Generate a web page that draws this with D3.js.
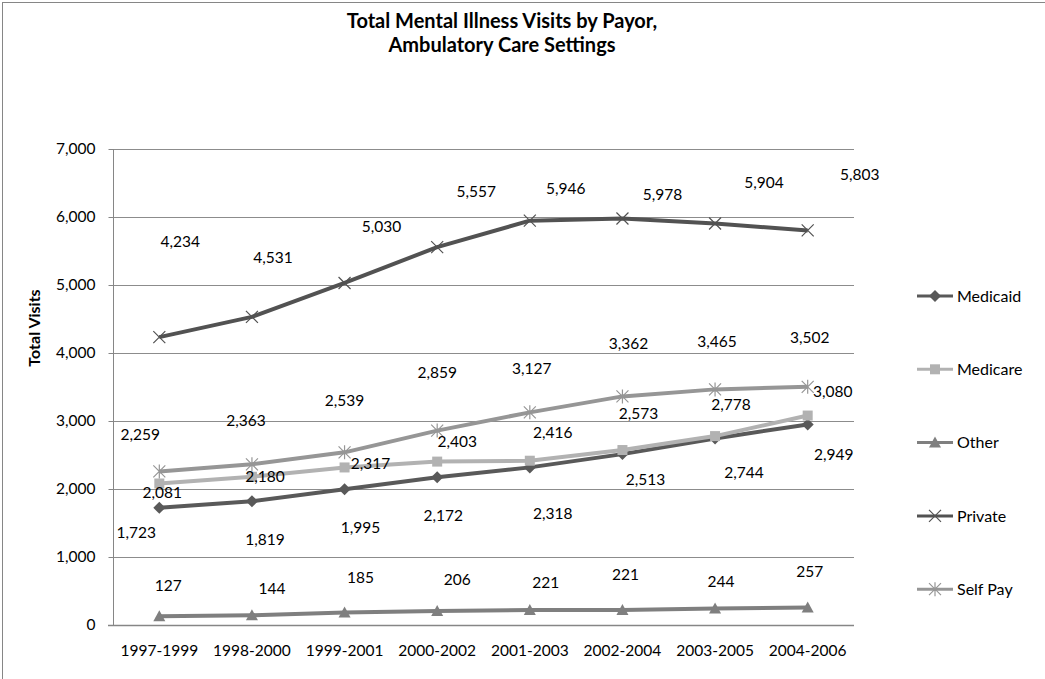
<!DOCTYPE html>
<html>
<head>
<meta charset="utf-8">
<script src="https://cdn.jsdelivr.net/npm/d3@7"></script>
<style>
  body { margin: 0; background: #fff; }
  svg { display: block; font-family: Lato, "Liberation Sans", sans-serif; }
</style>
</head>
<body>
<svg></svg>
<script>
const periods = ["1997-1999", "1998-2000", "1999-2001", "2000-2002", "2001-2003", "2002-2004", "2003-2005", "2004-2006"];
const seriesNames = ["Medicaid", "Medicare", "Other", "Private", "Self Pay"];
const medicaid = [1723, 1819, 1995, 2172, 2318, 2513, 2744, 2949];
const medicare = [2081, 2180, 2317, 2403, 2416, 2573, 2778, 3080];
const other = [127, 144, 185, 206, 221, 221, 244, 257];
const privatePay = [4234, 4531, 5030, 5557, 5946, 5978, 5904, 5803];
const selfPay = [2259, 2363, 2539, 2859, 3127, 3362, 3465, 3502];
const yTicks = [0, 1000, 2000, 3000, 4000, 5000, 6000, 7000];

// where the data labels sit relative to their point (px), as in the original
const labelOffsets = {
  "Medicaid": [[-23, 25], [13, 38], [16, 38], [6, 38], [23, 46], [23, 25], [29, 34], [26, 30]],
  "Medicare": [[3, 9], [13, 0], [26, -4], [20, -20], [23, -28], [16, -36], [16, -32], [25, -24]],
  "Other": [[9, -31], [20, -27], [16, -35], [20, -31], [16, -27], [3, -35], [6, -27], [2, -36]],
  "Private": [[21, -96], [21, -59], [37, -56], [39, -56], [36, -32], [40, -24], [49, -41], [52, -56]],
  "Self Pay": [[-19, -37], [-6, -44], [0, -52], [0, -58], [2, -44], [6, -53], [2, -48], [2, -49]]
};

const width = 1045;
const height = 679;
const plot = { left: 113, right: 854, top: 149, bottom: 625 };
const fontSize = 15.5;

const styles = {
  "Medicaid": { color: "#595959", marker: "diamond" },
  "Medicare": { color: "#b2b2b2", marker: "square" },
  "Other": { color: "#7f7f7f", marker: "triangle" },
  "Private": { color: "#525252", marker: "x" },
  "Self Pay": { color: "#969696", marker: "star" }
};

const values = [medicaid, medicare, other, privatePay, selfPay];
const series = seriesNames.map((name, i) => ({
  name: name,
  points: periods.map((p, j) => ({ period: p, value: values[i][j], off: labelOffsets[name][j] }))
}));

const svg = d3.select("svg").attr("width", width).attr("height", height);

// chart frame
svg.append("rect")
  .attr("x", 2.5).attr("y", 2.5)
  .attr("width", width + 10).attr("height", height + 10)
  .attr("fill", "none").attr("stroke", "#868686").attr("stroke-width", 1);

const xScale = d3.scaleBand().domain(periods).range([plot.left, plot.right]);
const yScale = d3.scaleLinear().domain([0, 7000]).range([plot.bottom, plot.top]);
const cx = (p) => xScale(p) + xScale.bandwidth() / 2;

// gridlines
svg.append("g")
  .selectAll("line")
  .data(yTicks.filter((t) => t > 0))
  .join("line")
  .attr("x1", plot.left).attr("x2", plot.right)
  .attr("y1", (d) => Math.round(yScale(d)) + 0.5)
  .attr("y2", (d) => Math.round(yScale(d)) + 0.5)
  .attr("stroke", "#8c8c8c").attr("stroke-width", 1);

// y axis
const yAxis = d3.axisLeft(yScale).tickValues(yTicks).tickFormat(d3.format(",")).tickSize(5).tickPadding(13);
const gy = svg.append("g")
  .attr("transform", "translate(" + (plot.left + 0.5) + ",0)")
  .call(yAxis);
gy.select(".domain").attr("stroke", "#868686").attr("d", "M0," + plot.top + "V" + plot.bottom);
gy.selectAll(".tick line").attr("stroke", "#868686").attr("x2", 0).attr("x1", -5);
gy.selectAll(".tick text").attr("font-size", fontSize).attr("fill", "#000").attr("font-family", "Lato, sans-serif");

// x axis
const xAxis = d3.axisBottom(xScale).tickSize(0).tickPadding(19);
const gx = svg.append("g")
  .attr("transform", "translate(0," + (plot.bottom + 0.5) + ")")
  .call(xAxis);
gx.select(".domain").attr("stroke", "#868686").attr("stroke-width", 1.5).attr("d", "M" + (plot.left - 5) + ",0H" + plot.right);
gx.selectAll(".tick text").attr("font-size", fontSize).attr("fill", "#000").attr("font-family", "Lato, sans-serif");

// axis title
svg.append("text")
  .attr("transform", "translate(40,328) rotate(-90)")
  .attr("text-anchor", "middle")
  .attr("font-size", 16).attr("font-weight", "bold")
  .text("Total Visits");

// title
svg.append("text")
  .attr("x", 502).attr("y", 28)
  .attr("text-anchor", "middle")
  .attr("font-size", 20).attr("font-weight", "bold")
  .text("Total Mental Illness Visits by Payor,");
svg.append("text")
  .attr("x", 502).attr("y", 52)
  .attr("text-anchor", "middle")
  .attr("font-size", 20).attr("font-weight", "bold")
  .text("Ambulatory Care Settings");

const line = d3.line().x((d) => cx(d.period)).y((d) => yScale(d.value));

const drawMarker = (g, type, color) => {
  if (type === "diamond") {
    g.append("path").attr("d", "M0,-6L6,0L0,6L-6,0Z").attr("fill", color);
  } else if (type === "square") {
    g.append("rect").attr("x", -5).attr("y", -5).attr("width", 10).attr("height", 10).attr("fill", color);
  } else if (type === "triangle") {
    g.append("path").attr("d", "M0,-6L6,5L-6,5Z").attr("fill", color);
  } else if (type === "x") {
    g.append("path").attr("d", "M-6,-6L6,6M-6,6L6,-6").attr("stroke", color).attr("stroke-width", 1.2).attr("fill", "none");
  } else if (type === "star") {
    g.append("path").attr("d", "M-6,-6L6,6M-6,6L6,-6M0,-7V7").attr("stroke", color).attr("stroke-width", 1.2).attr("fill", "none");
  }
};

series.forEach((s) => {
  const st = styles[s.name];
  const g = svg.append("g");
  g.append("path")
    .datum(s.points)
    .attr("d", line)
    .attr("fill", "none")
    .attr("stroke", st.color)
    .attr("stroke-width", 4)
    .attr("stroke-linejoin", "round");
  g.selectAll("g.marker")
    .data(s.points)
    .join("g")
    .attr("class", "marker")
    .attr("transform", (d) => "translate(" + cx(d.period) + "," + yScale(d.value) + ")")
    .each(function () { drawMarker(d3.select(this), st.marker, st.color); });
});

// data labels on top
series.forEach((s) => {
  svg.append("g")
    .selectAll("text")
    .data(s.points)
    .join("text")
    .attr("x", (d) => cx(d.period) + d.off[0])
    .attr("y", (d) => yScale(d.value) + d.off[1])
    .attr("dy", "0.35em")
    .attr("text-anchor", "middle")
    .attr("font-size", fontSize)
    .text((d) => d3.format(",")(d.value));
});

// legend
const legend = svg.append("g")
  .selectAll("g")
  .data(seriesNames)
  .join("g")
  .attr("transform", (d, i) => "translate(917," + (296 + i * 73.3) + ")");
legend.append("line")
  .attr("x1", 0).attr("x2", 36)
  .attr("stroke", (d) => styles[d].color).attr("stroke-width", 3);
legend.append("g")
  .attr("transform", "translate(18,0)")
  .each(function (d) { drawMarker(d3.select(this), styles[d].marker, styles[d].color); });
legend.append("text")
  .attr("x", 40).attr("dy", "0.35em")
  .attr("font-size", 16)
  .text((d) => d);
</script>
</body>
</html>
